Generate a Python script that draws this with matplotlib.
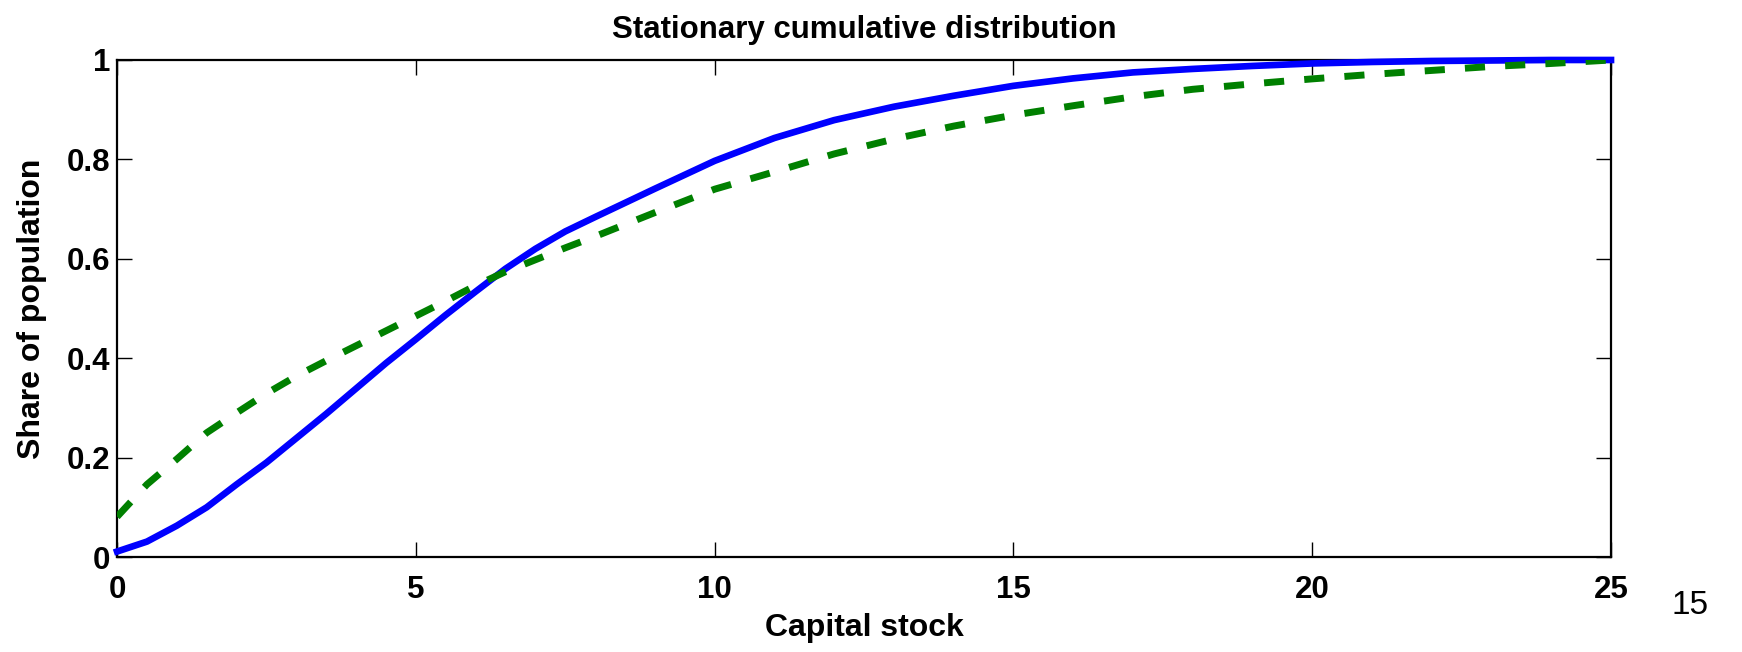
import matplotlib
matplotlib.use("Agg")
import matplotlib.pyplot as plt

# capital stock grid and the two stationary CDFs
capital = [0, 0.5, 1, 1.5, 2, 2.5, 3, 3.5, 4, 4.5, 5, 5.5, 6, 6.5, 7, 7.5, 8,
           9, 10, 11, 12, 13, 14, 15, 16, 17, 18, 19, 20, 21, 22, 23, 24, 25]
cdf_solid = [0.011, 0.031, 0.063, 0.100, 0.146, 0.190, 0.239, 0.288, 0.339,
             0.390, 0.438, 0.487, 0.534, 0.580, 0.620, 0.655, 0.684,
             0.741, 0.797, 0.843, 0.879, 0.906, 0.928, 0.948, 0.963,
             0.975, 0.982, 0.988, 0.993, 0.996, 0.998, 0.999, 1.000, 1.000]
cdf_dashed = [0.081, 0.146, 0.197, 0.250, 0.290, 0.329, 0.364, 0.395, 0.425,
              0.455, 0.485, 0.515, 0.546, 0.574, 0.598, 0.622, 0.645,
              0.693, 0.740, 0.775, 0.811, 0.841, 0.867, 0.889, 0.908,
              0.926, 0.941, 0.952, 0.962, 0.971, 0.979, 0.987, 0.993, 1.000]

xticks = [0, 5, 10, 15, 20, 25]
yticks = [0, 0.2, 0.4, 0.6, 0.8, 1]
ytick_labels = ["0", "0.2", "0.4", "0.6", "0.8", "1"]

plt.rcParams['font.family'] = ['Liberation Sans', 'DejaVu Sans']
plt.rcParams['font.weight'] = 'bold'

fig = plt.figure(figsize=(17.42, 6.52), dpi=100)
ax = fig.add_axes([0.0672, 0.1457, 0.8576, 0.7623])

ax.plot(capital, cdf_solid, color='#0000ff', linewidth=4.8,
        solid_joinstyle='round', clip_on=False, zorder=3)
ax.plot(capital, cdf_dashed, color='#008000', linewidth=5, dashes=(2.9, 2.9),
        dash_capstyle='butt', zorder=3)

ax.set_xlim(0, 25)
ax.set_ylim(0, 1)
ax.set_xticks(xticks)
ax.set_xticklabels([str(t) for t in xticks])
ax.set_yticks(yticks)
ax.set_yticklabels(ytick_labels)
ax.tick_params(direction='in', length=11, width=1, top=True, right=True,
               labelsize=22.5)
ax.tick_params(axis='x', pad=13)
ax.tick_params(axis='y', pad=5)
for s in ax.spines.values():
    s.set_linewidth(1.6)

ax.set_title("Stationary cumulative distribution", fontsize=22.5,
             fontweight='bold', pad=16)
ax.set_xlabel("Capital stock", fontsize=23, fontweight='bold', labelpad=6)
ax.set_ylabel("Share of population", fontsize=23, fontweight='bold',
              labelpad=14)

fig.text(0.970, 0.072, "15", fontsize=24, fontweight='normal',
         ha='center', va='center')

fig.savefig("out.png", dpi=100)
